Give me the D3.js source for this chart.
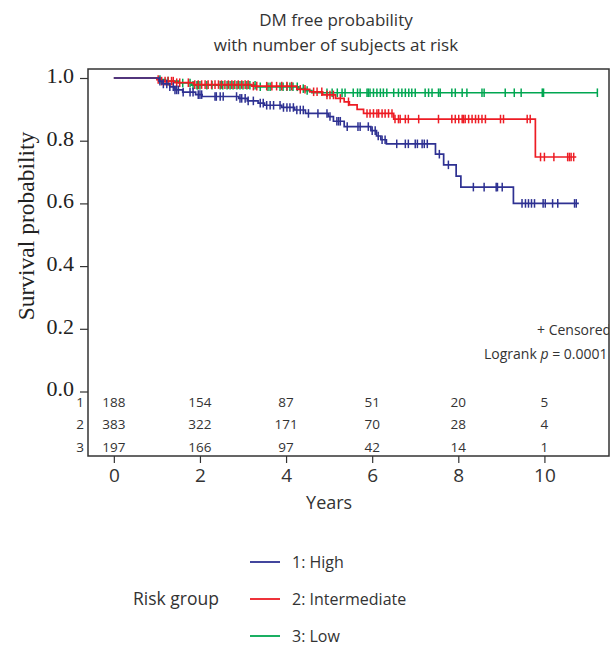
<!DOCTYPE html>
<html lang="en">
<head>
<meta charset="UTF-8">
<title>DM free probability</title>
<script src="https://d3js.org/d3.v7.min.js"></script>
<style>
  body { margin: 0; padding: 0; background: #fff; }
  svg { display: block; }
  .sans { font-family: "Open Sans", "Noto Sans", sans-serif; fill: #333; }
  .serif { font-family: "Liberation Serif", "DejaVu Serif", serif; fill: #222; }
</style>
</head>
<body>
<svg id="chart"></svg>
<script>
const W = 614, H = 646;

// step points: time (years) and survival after that time
const highT = [1.05, 1.12, 1.3, 1.42, 1.6, 1.9, 2.05, 2.9, 3.1, 3.35, 3.5, 3.9, 4.2, 4.45, 4.98, 5.1, 5.35, 5.97, 6.1, 6.2, 6.33, 7.47, 7.66, 7.95, 8.06, 9.28];
const highS = [0.99, 0.981, 0.972, 0.962, 0.955, 0.947, 0.941, 0.935, 0.927, 0.92, 0.913, 0.906, 0.898, 0.887, 0.877, 0.862, 0.845, 0.832, 0.815, 0.803, 0.79, 0.757, 0.723, 0.687, 0.652, 0.60];
const highEnd = 10.8;
const highCens = [1.07, 1.15, 1.23, 1.30, 1.38, 1.42, 1.46, 1.50, 1.61, 1.77, 1.84, 1.96, 2.0, 2.04, 2.35, 2.38, 2.47, 2.54, 2.85, 2.93, 2.97, 3.05, 3.12, 3.24, 3.40, 3.47, 3.55, 3.63, 3.71, 3.86, 3.94, 4.02, 4.09, 4.17, 4.25, 4.33, 4.40, 4.52, 4.74, 4.95, 5.02, 5.18, 5.22, 5.26, 5.42, 5.67, 5.72, 5.91, 6.0, 6.07, 6.14, 6.23, 6.30, 6.57, 6.77, 6.84, 7.0, 7.05, 7.16, 7.21, 7.28, 7.56, 7.77, 8.35, 8.6, 8.88, 8.91, 9.02, 9.48, 9.56, 9.63, 9.70, 9.77, 9.97, 10.02, 10.19, 10.31, 10.70, 10.74];

const interT = [1.0, 1.1, 1.4, 1.85, 3.2, 4.25, 4.55, 4.85, 5.15, 5.35, 5.47, 5.65, 5.8, 6.5, 9.79];
const interS = [0.995, 0.99, 0.985, 0.979, 0.974, 0.964, 0.956, 0.946, 0.935, 0.924, 0.914, 0.9, 0.887, 0.869, 0.748];
const interEnd = 10.74;
const interCens = [1.03, 1.11, 1.19, 1.26, 1.34, 1.38, 1.46, 1.53, 1.73, 1.88, 1.96, 2.04, 2.12, 2.19, 2.27, 2.35, 2.43, 2.5, 2.58, 2.66, 2.74, 2.81, 2.89, 2.97, 3.05, 3.12, 3.24, 3.32, 3.55, 3.67, 3.78, 3.9, 4.02, 4.13, 4.33, 4.44, 4.64, 4.72, 4.83, 4.95, 5.02, 5.1, 5.26, 5.45, 5.88, 5.95, 6.03, 6.11, 6.15, 6.23, 6.30, 6.38, 6.46, 6.53, 6.61, 6.65, 6.77, 6.84, 7.08, 7.54, 7.85, 7.93, 8.01, 8.09, 8.12, 8.16, 8.24, 8.32, 8.40, 8.47, 8.55, 8.63, 8.98, 9.05, 9.60, 9.67, 9.91, 10.0, 10.22, 10.54, 10.58, 10.62, 10.68];

const lowT = [1.05, 1.2, 1.5, 1.8, 3.3, 4.3, 4.45, 4.6];
const lowS = [0.995, 0.99, 0.984, 0.977, 0.972, 0.966, 0.96, 0.953];
const lowEnd = 11.23;
const lowCens = [1.07, 1.26, 1.6, 1.77, 1.84, 1.93, 1.95, 2.0, 2.16, 2.28, 2.47, 2.53, 2.63, 2.7, 2.77, 2.86, 2.93, 3.0, 3.09, 3.16, 3.28, 3.4, 3.58, 3.63, 3.86, 3.93, 4.02, 4.09, 4.16, 4.26, 4.4, 4.49, 4.95, 5.07, 5.19, 5.30, 5.37, 5.56, 5.66, 5.72, 5.88, 5.91, 5.95, 6.03, 6.11, 6.19, 6.26, 6.34, 6.50, 6.61, 6.69, 6.77, 6.85, 6.92, 7.00, 7.23, 7.31, 7.39, 7.54, 7.58, 7.85, 7.93, 8.09, 8.20, 8.55, 8.60, 9.09, 9.30, 9.46, 9.95, 9.98, 11.23];

const groupNames = ["1: High", "2: Intermediate", "3: Low"];
const groupColors = ["#2e3192", "#ed1c24", "#00a651"];
const riskTimes = [0, 2, 4, 6, 8, 10];
const atRisk = [
  [188, 154, 87, 51, 20, 5],
  [383, 322, 171, 70, 28, 4],
  [197, 166, 97, 42, 14, 1]
];
const yTicks = [0, 0.2, 0.4, 0.6, 0.8, 1.0];
const xTicks = [0, 2, 4, 6, 8, 10];

const groups = [
  { t: highT, s: highS, end: highEnd, cens: highCens },
  { t: interT, s: interS, end: interEnd, cens: interCens },
  { t: lowT, s: lowS, end: lowEnd, cens: lowCens }
];

const box = { left: 88, top: 69, right: 609, bottom: 456 };

const svg = d3.select("#chart").attr("width", W).attr("height", H);

const x = d3.scaleLinear().domain([-0.6, 11.5]).range([box.left, box.right]);
const y = d3.scaleLinear().domain([0, 1]).range([391.5, 78]);

svg.append("defs").append("clipPath").attr("id", "clip")
  .append("rect")
  .attr("x", box.left).attr("y", box.top)
  .attr("width", box.right - box.left).attr("height", box.bottom - box.top);

// title
svg.append("text").attr("class", "sans")
  .attr("x", 336).attr("y", 26).attr("text-anchor", "middle")
  .style("font-size", "17px").text("DM free probability");
svg.append("text").attr("class", "sans")
  .attr("x", 336).attr("y", 51).attr("text-anchor", "middle")
  .style("font-size", "17px").text("with number of subjects at risk");

// y axis
const yAxis = svg.append("g")
  .attr("transform", `translate(${box.left},0)`)
  .call(d3.axisLeft(y).tickValues(yTicks).tickFormat(d3.format(".1f")).tickSize(8).tickPadding(6));
yAxis.select(".domain").remove();
yAxis.selectAll("line").attr("stroke", "#333").attr("stroke-width", 1.2);
yAxis.selectAll("text")
  .attr("class", "serif")
  .attr("dy", "0.2em")
  .style("font-size", "22px");

svg.append("text").attr("class", "serif")
  .attr("transform", "rotate(-90)")
  .attr("x", -226).attr("y", 34)
  .attr("text-anchor", "middle")
  .style("font-size", "23.5px")
  .text("Survival probability");

// x axis
const xAxis = svg.append("g")
  .attr("transform", `translate(0,${box.bottom})`)
  .call(d3.axisBottom(x).tickValues(xTicks).tickSize(7).tickPadding(6));
xAxis.select(".domain").remove();
xAxis.selectAll("line").attr("stroke", "#333").attr("stroke-width", 1.2);
xAxis.selectAll("text")
  .attr("class", "sans")
  .style("font-size", "19px");

svg.append("text").attr("class", "sans")
  .attr("x", x(5)).attr("y", 509).attr("text-anchor", "middle")
  .style("font-size", "18px").text("Years");

// curves
const plot = svg.append("g").attr("clip-path", "url(#clip)");
const line = d3.line().x(d => x(d[0])).y(d => y(d[1])).curve(d3.curveStepAfter);

function survAt(g, t) {
  let s = 1;
  for (let i = 0; i < g.t.length; i++) if (g.t[i] <= t) s = g.s[i];
  return s;
}

// draw low first so high/intermediate sit on top like the reference
[2, 1, 0].forEach(gi => {
  const g = groups[gi];
  const pts = [[0, 1]];
  g.t.forEach((t, i) => pts.push([t, g.s[i]]));
  pts.push([g.end, g.s[g.s.length - 1]]);
  plot.append("path")
    .attr("d", line(pts))
    .attr("fill", "none")
    .attr("stroke", groupColors[gi])
    .attr("stroke-width", 1.7);
  plot.selectAll(null)
    .data(g.cens)
    .enter().append("line")
    .attr("x1", d => x(d)).attr("x2", d => x(d))
    .attr("y1", d => y(survAt(g, d)) - 4.3)
    .attr("y2", d => y(survAt(g, d)) + 4.3)
    .attr("stroke", groupColors[gi])
    .attr("stroke-width", 1.5);
});

// notes
plot.append("text").attr("class", "sans")
  .attr("x", 537).attr("y", 335)
  .style("font-size", "14px").text("+ Censored");
const lr = plot.append("text").attr("class", "sans")
  .attr("x", 484).attr("y", 359)
  .style("font-size", "14px");
lr.append("tspan").text("Logrank ");
lr.append("tspan").style("font-style", "italic").text("p");
lr.append("tspan").text(" = 0.0001");

// at-risk table
const rowY = [402, 424.5, 447];
atRisk.forEach((row, ri) => {
  svg.append("text").attr("class", "sans")
    .attr("x", 84).attr("y", rowY[ri]).attr("dy", "0.35em")
    .attr("text-anchor", "end")
    .style("font-size", "13.5px").text(ri + 1);
  svg.selectAll(null)
    .data(row)
    .enter().append("text")
    .attr("class", "sans")
    .attr("x", (d, i) => x(riskTimes[i]))
    .attr("y", rowY[ri]).attr("dy", "0.35em")
    .attr("text-anchor", "middle")
    .style("font-size", "13.5px")
    .text(d => d);
});

// frame
svg.append("rect")
  .attr("x", box.left).attr("y", box.top)
  .attr("width", box.right - box.left).attr("height", box.bottom - box.top)
  .attr("fill", "none").attr("stroke", "#333").attr("stroke-width", 1.5);

// legend
const legY = [562, 599, 636];
svg.append("text").attr("class", "sans")
  .attr("x", 133).attr("y", legY[1]).attr("dy", "0.35em")
  .style("font-size", "17.5px").text("Risk group");
groupNames.forEach((name, i) => {
  svg.append("line")
    .attr("x1", 250).attr("x2", 280)
    .attr("y1", legY[i]).attr("y2", legY[i])
    .attr("stroke", groupColors[i]).attr("stroke-width", 1.8);
  svg.append("text").attr("class", "sans")
    .attr("x", 292).attr("y", legY[i]).attr("dy", "0.35em")
    .style("font-size", "16px").text(name);
});
</script>
</body>
</html>
